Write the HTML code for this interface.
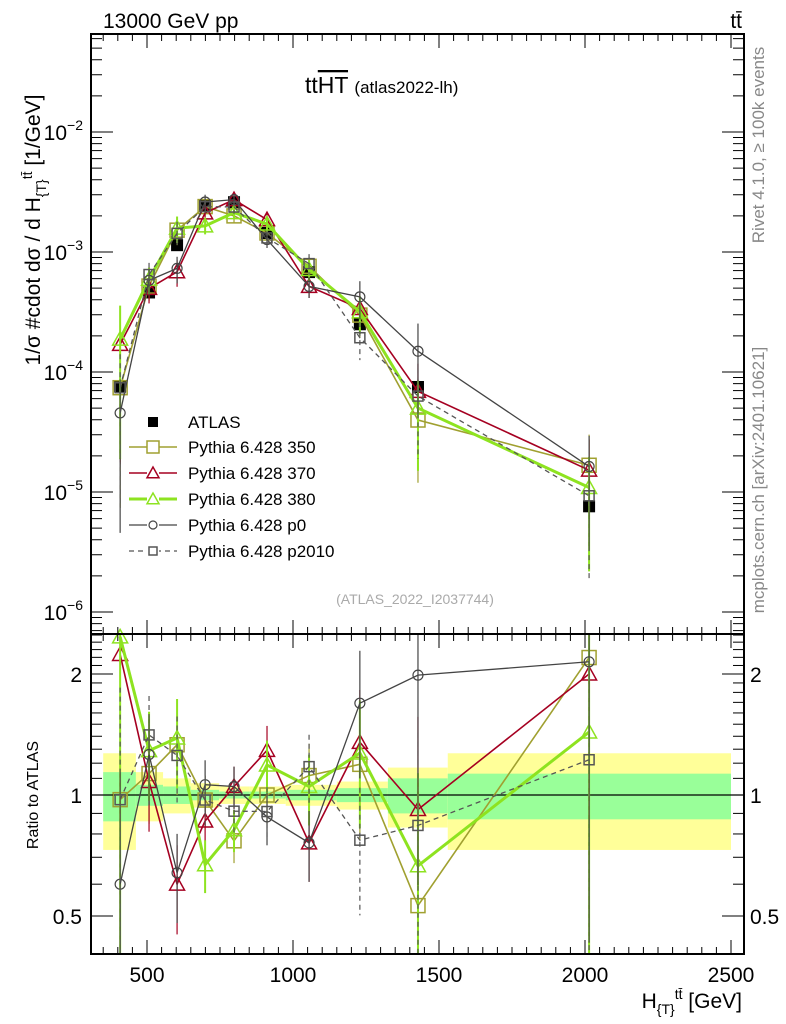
<!DOCTYPE html>
<html><head><meta charset="utf-8"><style>
body{margin:0;background:#fff}
svg{display:block;font-family:"Liberation Sans",sans-serif}
</style></head><body>
<svg id="chart" width="786" height="1024" viewBox="0 0 786 1024">
<g id="bands"></g>
<g id="grid"></g>
<g id="series"></g>
<g id="frame"></g>
<text x="103" y="28" font-size="21">13000 GeV pp</text>
<text x="742" y="28" font-size="21" text-anchor="end">tt̄</text>
<text x="305" y="93" font-size="23">tt<tspan text-decoration="overline">HT</tspan> <tspan font-size="17">(atlas2022-lh)</tspan></text>
<text x="415" y="604" font-size="14" fill="#aaa" text-anchor="middle">(ATLAS_2022_I2037744)</text>
<text transform="translate(764,145) rotate(-90)" font-size="17" fill="#888" text-anchor="middle">Rivet 4.1.0, ≥ 100k events</text>
<text transform="translate(764,480) rotate(-90)" font-size="17" fill="#888" text-anchor="middle">mcplots.cern.ch [arXiv:2401.10621]</text>
<text transform="translate(40,230) rotate(-90)" font-size="21" text-anchor="middle">1/σ #cdot dσ / d H<tspan font-size="14" dy="6">{T}</tspan><tspan font-size="14" dy="-14">tt̄</tspan><tspan dy="8"> [1/GeV]</tspan></text>
<text transform="translate(38,795) rotate(-90)" font-size="16" text-anchor="middle">Ratio to ATLAS</text>
<text x="742" y="1008" font-size="21" text-anchor="end">H<tspan font-size="14" dy="6">{T}</tspan><tspan font-size="14" dy="-15">tt̄</tspan><tspan dy="9"> [GeV]</tspan></text>
<g id="legend"></g>
</svg>
<script>
const xCenters=[408,507,603,699,798,911,1055,1229,1428,2014];
const binEdges=[350,462,555,650,747,850,975,1150,1325,1530,2500];
const atlas=[7.6e-5,4.6e-4,1.14e-3,2.46e-3,2.6e-3,1.44e-3,6.8e-4,2.5e-4,7.5e-5,7.6e-6];
const atlasErr=[0.1,0.08,0.06,0.05,0.05,0.05,0.06,0.08,0.15,0.6];
const bandTotal=[0.27,0.14,0.1,0.07,0.05,0.05,0.06,0.08,0.17,0.27];
const bandStat=[0.14,0.06,0.05,0.03,0.02,0.02,0.03,0.04,0.1,0.13];
const mc350=[7.4e-5,5.2e-4,1.52e-3,2.39e-3,2.0e-3,1.44e-3,7.6e-4,2.98e-4,3.98e-5,1.67e-5];
const mc370=[1.70e-4,4.97e-4,6.84e-4,2.12e-3,2.73e-3,1.86e-3,5.17e-4,3.38e-4,6.9e-5,1.52e-5];
const mc380=[1.88e-4,5.93e-4,1.58e-3,1.65e-3,2.13e-3,1.71e-3,7.14e-4,3.18e-4,5.0e-5,1.09e-5];
const mcP0=[4.56e-5,5.8e-4,7.3e-4,2.61e-3,2.73e-3,1.27e-3,5.17e-4,4.23e-4,1.49e-4,1.63e-5];
const mcP2010=[7.4e-5,6.49e-4,1.43e-3,2.39e-3,2.37e-3,1.31e-3,8.0e-4,1.93e-4,6.3e-5,9.3e-6];
const mcRelErr=[0.9,0.25,0.25,0.15,0.12,0.15,0.2,0.35,0.7,0.8];
const xTickLabels=[500,1000,1500,2000,2500];
const yTickExps=[-6,-5,-4,-3,-2];
const ratioTickLabels=[0.5,1,2];

const L=91,R=744,T=34,M=634,B=954;
const X=v=>147+(v-500)*0.292;
const Y=v=>252-120*(Math.log10(v)+3);
const RY=r=>{let y=795-402*Math.log10(r);return Math.max(M,Math.min(B,y));};
const NS="http://www.w3.org/2000/svg";
function mk(tag,at,parent){const e=document.createElementNS(NS,tag);for(const k in at)e.setAttribute(k,at[k]);parent.appendChild(e);return e;}
const bands=document.getElementById('bands'),grid=document.getElementById('grid'),ser=document.getElementById('series'),frame=document.getElementById('frame'),leg=document.getElementById('legend');

for(let i=0;i<xCenters.length;i++){
  const x0=X(binEdges[i]),x1=X(binEdges[i+1]);
  const y=mk('rect',{x:x0,y:RY(1+bandTotal[i]),width:x1-x0,height:RY(1-bandTotal[i])-RY(1+bandTotal[i]),fill:'#ffff99'},bands);
  
  
  const g=mk('rect',{x:x0,y:RY(1+bandStat[i]),width:x1-x0,height:RY(1-bandStat[i])-RY(1+bandStat[i]),fill:'#99ff99'},bands);
  
  
}
mk('line',{x1:L,x2:R,y1:RY(1),y2:RY(1),stroke:'#000','stroke-width':1.2},grid);

mk('rect',{x:L,y:T,width:R-L,height:M-T,fill:'none',stroke:'#000','stroke-width':2},frame);
mk('rect',{x:L,y:M,width:R-L,height:B-M,fill:'none',stroke:'#000','stroke-width':2},frame);
for(let v=350;v<=2500;v+=50){
  const x=X(v),maj=v%500===0,len=maj?14:7;
  mk('line',{x1:x,x2:x,y1:T,y2:T+len,stroke:'#000'},frame);
  mk('line',{x1:x,x2:x,y1:M,y2:M-len,stroke:'#000'},frame);
  mk('line',{x1:x,x2:x,y1:M,y2:M+len,stroke:'#000'},frame);
  mk('line',{x1:x,x2:x,y1:B,y2:B-len,stroke:'#000'},frame);
}
xTickLabels.forEach(v=>{const t=mk('text',{x:X(v),y:982,'font-size':21,'text-anchor':'middle'},frame);t.textContent=v;

});
for(let e=-7;e<=-1;e++)for(let m=1;m<10;m++){
  const v=m*Math.pow(10,e),y=Y(v);if(y<T||y>M)continue;
  const len=m===1?22:11;
  mk('line',{x1:L,x2:L+len,y1:y,y2:y,stroke:'#000'},frame);
  mk('line',{x1:R,x2:R-len,y1:y,y2:y,stroke:'#000'},frame);
}
yTickExps.forEach(e=>{const t=mk('text',{x:83,y:Y(Math.pow(10,e))+8,'font-size':21,'text-anchor':'end'},frame);
t.innerHTML='10<tspan font-size="14" dy="-10">−'+(-e)+'</tspan>';

});
for(let r=0.4;r<=2.55;r+=0.1){const y=RY(r);if(y<=M||y>=B)continue;
  const maj=[0.5,1,2].some(q=>Math.abs(q-r)<1e-6);const len=maj?22:11;
  mk('line',{x1:L,x2:L+len,y1:y,y2:y,stroke:'#000'},frame);
  mk('line',{x1:R,x2:R-len,y1:y,y2:y,stroke:'#000'},frame);}
ratioTickLabels.forEach(r=>{
  const t=mk('text',{x:82,y:RY(r)+8,'font-size':21,'text-anchor':'end'},frame);t.textContent=r;
  
  
  const t2=mk('text',{x:750,y:RY(r)+8,'font-size':21},frame);t2.textContent=r;
  
  });

function marker(g,type,x,y,color,s){
  if(type==='sq')mk('rect',{x:x-s,y:y-s,width:2*s,height:2*s,fill:'none',stroke:color,'stroke-width':1.5},g);
  else if(type==='fsq')mk('rect',{x:x-s,y:y-s,width:2*s,height:2*s,fill:color},g);
  else if(type==='tri')mk('polygon',{points:`${x},${y-s} ${x-s},${y+s*0.8} ${x+s},${y+s*0.8}`,fill:'none',stroke:color,'stroke-width':1.5},g);
  else mk('circle',{cx:x,cy:y,r:s,fill:'none',stroke:color,'stroke-width':1.2},g);
}
const seriesDefs=[
 {name:'Pythia 6.428 350',vals:mc350,color:'#a0a030',w:1.6,m:'sq',s:7,dash:''},
 {name:'Pythia 6.428 370',vals:mc370,color:'#a50021',w:1.6,m:'tri',s:7.5,dash:''},
 {name:'Pythia 6.428 380',vals:mc380,color:'#8ee320',w:3,m:'tri',s:7.5,dash:''},
 {name:'Pythia 6.428 p0',vals:mcP0,color:'#444',w:1.3,m:'circ',s:5,dash:''},
 {name:'Pythia 6.428 p2010',vals:mcP2010,color:'#555',w:1.3,m:'sq',s:5,dash:'5,4'}];

const ag=mk('g',{},ser);


atlas.forEach((v,i)=>{const x=X(xCenters[i]);
  mk('line',{x1:x,x2:x,y1:Y(v*(1+atlasErr[i])),y2:Math.min(M,Y(Math.max(v*(1-atlasErr[i]),1e-8))),stroke:'#000','stroke-width':1.2},ag);
  marker(ag,'fsq',x,Y(v),'#000',6);});

seriesDefs.forEach((sd,k)=>{
  const g=mk('g',{},ser);
  
  
  const pts=sd.vals.map((v,i)=>X(xCenters[i])+','+Y(v)).join(' ');
  mk('polyline',{points:pts,fill:'none',stroke:sd.color,'stroke-width':sd.w,'stroke-dasharray':sd.dash},g);
  const rpts=sd.vals.map((v,i)=>X(xCenters[i])+','+RY(v/atlas[i])).join(' ');
  mk('polyline',{points:rpts,fill:'none',stroke:sd.color,'stroke-width':sd.w,'stroke-dasharray':sd.dash},g);
  sd.vals.forEach((v,i)=>{const x=X(xCenters[i]);const e=mcRelErr[i];
    const lo=Math.max(v*(1-e),1e-9);
    mk('line',{x1:x,x2:x,y1:Y(v*(1+e)),y2:Math.min(M,Y(lo)),stroke:sd.color,'stroke-width':sd.w>2?2:1.2,'stroke-dasharray':sd.dash},g);
    const r=v/atlas[i];
    mk('line',{x1:x,x2:x,y1:RY(r*(1+e)),y2:RY(Math.max(r*(1-e),0.01)),stroke:sd.color,'stroke-width':sd.w>2?2:1.2,'stroke-dasharray':sd.dash},g);
    marker(g,sd.m,x,Y(v),sd.color,sd.s);
    marker(g,sd.m,x,RY(r),sd.color,sd.s);});
});

const ly=[422,447,473,499,525,551];
const le=mk('g',{},leg);


marker(le,'fsq',153,ly[0],'#000',5);
mk('text',{x:188,y:ly[0]+6,'font-size':17},le).textContent='ATLAS';
seriesDefs.forEach((sd,k)=>{const g=mk('g',{},leg);
  
  
  const y=ly[k+1];
  mk('line',{x1:129,x2:177,y1:y,y2:y,stroke:sd.color,'stroke-width':sd.w,'stroke-dasharray':sd.dash},g);
  mk('rect',{x:147,y:y-6,width:12,height:12,fill:'#fff'},g);
  marker(g,sd.m,153,y,sd.color,sd.m==='circ'?4:(sd.s===5?4:6));
  mk('text',{x:188,y:y+6,'font-size':17},g).textContent=sd.name;});
</script>
</body></html>
